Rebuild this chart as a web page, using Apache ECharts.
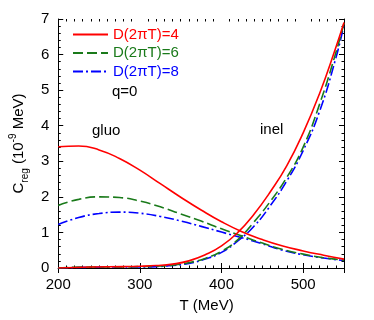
<!DOCTYPE html>
<html>
<head>
<meta charset="utf-8">
<script src="https://cdn.jsdelivr.net/npm/echarts@6/dist/echarts.min.js"></script>
<style>
  html, body { margin: 0; padding: 0; background: #fff; }
  #main { width: 374px; height: 320px; }
</style>
</head>
<body>
<div id="main"></div>
<script type="text/javascript">
    // tick labels
    var xTicks = [200, 300, 400, 500];
    var xMinor = [210, 220, 230, 240, 250, 260, 270, 280, 290, 310, 320, 330, 340, 350, 360, 370, 380, 390,
        410, 420, 430, 440, 450, 460, 470, 480, 490, 510, 520, 530, 540];

    // gluo curves
    var gluoT = [200, 225, 250, 275, 300, 325, 350, 375, 400, 425, 450, 475, 500, 525, 550];
    var gluo4 = [3.41, 3.43, 3.32, 3.08, 2.75, 2.37, 1.99, 1.63, 1.3, 1.02, 0.8, 0.62, 0.48, 0.36, 0.25];
    var gluo6 = [1.76, 1.93, 2.0, 1.98, 1.88, 1.72, 1.52, 1.32, 1.1, 0.9, 0.7, 0.52, 0.39, 0.29, 0.22];
    var gluo8 = [1.22, 1.42, 1.53, 1.57, 1.54, 1.45, 1.32, 1.17, 1.01, 0.85, 0.68, 0.5, 0.37, 0.28, 0.21];

    // inel curves
    var inelT = [200, 240, 280, 300, 320, 340, 360, 380, 400, 420, 440, 460, 480, 500, 520, 540, 550];
    var inel4 = [0, 0.03, 0.04, 0.05, 0.07, 0.11, 0.2, 0.37, 0.62, 1.0, 1.52, 2.15, 2.88, 3.8, 4.9, 6.2, 6.9];
    var inel6 = [0, 0.03, 0.03, 0.04, 0.05, 0.08, 0.15, 0.27, 0.47, 0.8, 1.3, 1.88, 2.55, 3.4, 4.6, 6.05, 6.88];
    var inel8 = [0, 0.02, 0.03, 0.03, 0.04, 0.07, 0.13, 0.25, 0.44, 0.76, 1.18, 1.76, 2.45, 3.3, 4.4, 5.9, 6.85];

    var names = ['D(2\u03c0T)=4', 'D(2\u03c0T)=6', 'D(2\u03c0T)=8'];
    var colors = ['#ff0000', '#1a7a1a', '#0000ff'];
    var dashes = ['solid', [10, 4], [10, 3, 2, 3]];

    var font = 'Liberation Sans, Arial, sans-serif';

    function pairs(t, v) {
        var out = [];
        for (var i = 0; i < t.length; i++) {
            out.push([t[i], v[i]]);
        }
        return out;
    }

    function line(k, t, v) {
        return {
            name: names[k],
            type: 'line',
            xAxisIndex: 0,
            yAxisIndex: 0,
            data: pairs(t, v),
            smooth: 0.5,
            symbol: 'none',
            color: colors[k],
            lineStyle: { color: colors[k], width: 1.6, type: dashes[k] },
            z: 3 - k
        };
    }

    var chart = echarts.init(document.getElementById('main'), null, { renderer: 'canvas' });

    var axisLine = { show: true, lineStyle: { color: '#000', width: 1 } };

    var option = {
        animation: false,
        backgroundColor: '#fff',
        textStyle: { fontFamily: font },
        grid: { left: 52, right: 30, top: 19, bottom: 52 },
        legend: {
            orient: 'vertical',
            left: 67,
            top: 22,
            itemWidth: 35,
            itemHeight: 14,
            itemGap: 3.5,
            selectedMode: false,
            itemStyle: { opacity: 0 },
            textStyle: { fontSize: 15, fontFamily: font },
            data: names.map(function (n, k) {
                return { name: n, textStyle: { color: colors[k] } };
            })
        },
        xAxis: [
            {
                type: 'value', position: 'bottom', min: 200, max: 550, interval: 100,
                axisLine: axisLine,
                axisTick: { inside: true, length: 5, lineStyle: { color: '#000' } },
                axisLabel: { customValues: xTicks, color: '#000', fontSize: 15, fontFamily: font, margin: 9 },
                splitLine: { show: false },
                name: 'T (MeV)', nameLocation: 'middle', nameGap: 30,
                nameTextStyle: { color: '#000', fontSize: 15, fontFamily: font, padding: [0, 0, 0, 11] }
            },
            {
                type: 'value', position: 'top', min: 200, max: 550, interval: 100,
                axisLine: axisLine,
                axisTick: { inside: true, length: 5, lineStyle: { color: '#000' } },
                axisLabel: { show: false },
                splitLine: { show: false }
            },
            {
                type: 'value', position: 'bottom', min: 200, max: 550,
                axisLine: { show: false },
                axisTick: { inside: true, length: 2.5, customValues: xMinor, lineStyle: { color: '#000' } },
                axisLabel: { show: false },
                splitLine: { show: false }
            },
            {
                type: 'value', position: 'top', min: 200, max: 550,
                axisLine: { show: false },
                axisTick: { inside: true, length: 2.5, customValues: xMinor, lineStyle: { color: '#000' } },
                axisLabel: { show: false },
                splitLine: { show: false }
            }
        ],
        yAxis: [
            {
                type: 'value', position: 'left', min: 0, max: 7, interval: 1,
                axisLine: axisLine,
                axisTick: { inside: true, length: 5, lineStyle: { color: '#000' } },
                minorTick: { show: true, splitNumber: 5, length: 2.5, lineStyle: { color: '#000' } },
                axisLabel: { color: '#000', fontSize: 15, fontFamily: font, margin: 9 },
                splitLine: { show: false },
                name: '{a|C}{s|reg}{a| (10}{p|-9}{a| MeV)}',
                nameLocation: 'middle', nameGap: 26, nameRotate: 90,
                nameTextStyle: {
                    color: '#000',
                    rich: {
                        a: { fontSize: 15, fontFamily: font, color: '#000', lineHeight: 22, verticalAlign: 'middle' },
                        s: { fontSize: 10, fontFamily: font, color: '#000', lineHeight: 22, verticalAlign: 'bottom', padding: [8, 0, 0, 0] },
                        p: { fontSize: 10, fontFamily: font, color: '#000', lineHeight: 22, verticalAlign: 'top', padding: [0, 0, 8, 0] }
                    }
                }
            },
            {
                type: 'value', position: 'right', min: 0, max: 7, interval: 1,
                axisLine: axisLine,
                axisTick: { inside: true, length: 5, lineStyle: { color: '#000' } },
                minorTick: { show: true, splitNumber: 5, length: 2.5, lineStyle: { color: '#000' } },
                axisLabel: { show: false },
                splitLine: { show: false }
            }
        ],
        graphic: [
            { type: 'text', left: 112, top: 84, style: { text: 'q=0', fontSize: 15, fontFamily: font, fill: '#000' } },
            { type: 'text', left: 92, top: 123, style: { text: 'gluo', fontSize: 15, fontFamily: font, fill: '#000' } },
            { type: 'text', left: 260, top: 122, style: { text: 'inel', fontSize: 15, fontFamily: font, fill: '#000' } }
        ],
        series: [
            line(0, gluoT, gluo4),
            line(1, gluoT, gluo6),
            line(2, gluoT, gluo8),
            line(0, inelT, inel4),
            line(1, inelT, inel6),
            line(2, inelT, inel8)
        ]
    };

    chart.setOption(option);
    window.addEventListener('resize', chart.resize);
</script>
</body>
</html>
